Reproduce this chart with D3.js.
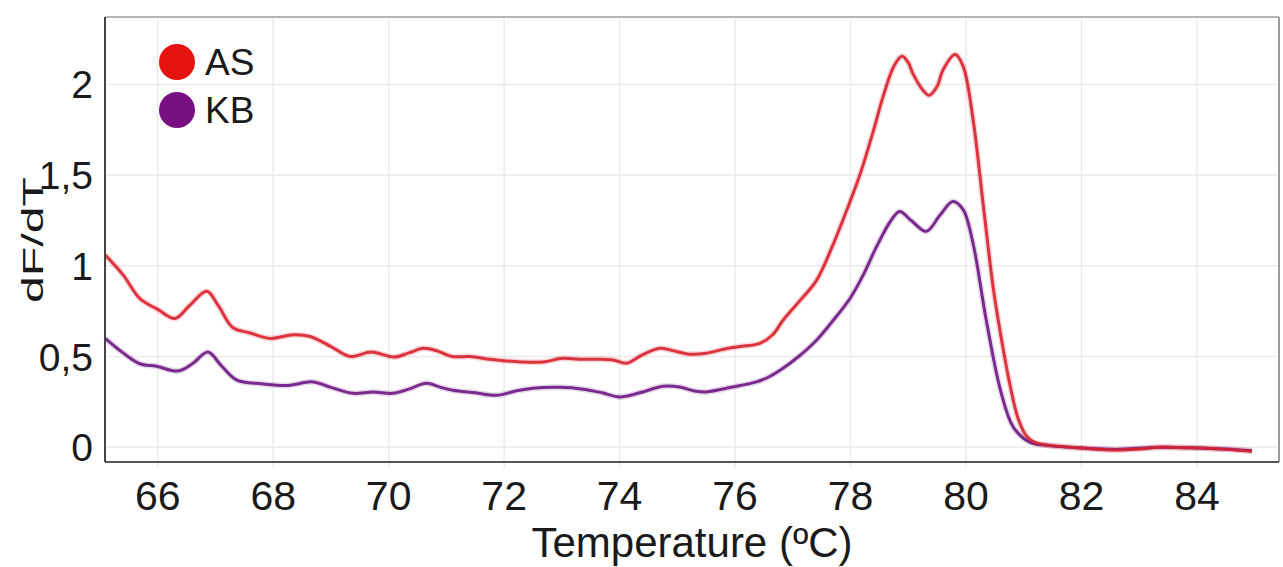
<!DOCTYPE html>
<html>
<head>
<meta charset="utf-8">
<script src="https://cdn.jsdelivr.net/npm/d3@7"></script>
<style>
  html, body { margin: 0; padding: 0; background: #fff; }
  svg { display: block; font-family: "Liberation Sans", Arial, sans-serif; }
</style>
</head>
<body>
<svg id="chart" width="1283" height="567"></svg>
<script>
// ---- data ----
const seriesNames = ["AS", "KB"];
const xTicks = [66, 68, 70, 72, 74, 76, 78, 80, 82, 84];
const yTicks = [0, 0.5, 1, 1.5, 2];
const yTickLabels = ["0", "0,5", "1", "1,5", "2"];

const asTemp = [65.09, 65.4, 65.69, 66.0, 66.3, 66.55, 66.85, 67.05, 67.3, 67.6, 67.95, 68.35, 68.64, 69.0, 69.33, 69.7, 70.1, 70.35, 70.6, 70.85, 71.1, 71.4, 71.75, 71.98, 72.3, 72.67, 73.02, 73.3, 73.66, 73.9, 74.12, 74.4, 74.7, 74.95, 75.2, 75.5, 75.8, 76.03, 76.43, 76.65, 76.83, 77.1, 77.41, 77.7, 77.95, 78.17, 78.4, 78.56, 78.75, 78.89, 79.0, 79.08, 79.25, 79.36, 79.5, 79.6, 79.81, 79.95, 80.12, 80.3, 80.47, 80.6, 80.75, 80.9, 81.05, 81.2, 81.46, 82.03, 82.6, 83.0, 83.36, 84.05, 84.5, 84.95];
const asValue = [1.06, 0.95, 0.82, 0.76, 0.71, 0.78, 0.86, 0.78, 0.66, 0.63, 0.60, 0.62, 0.61, 0.555, 0.50, 0.525, 0.497, 0.52, 0.545, 0.53, 0.50, 0.50, 0.485, 0.477, 0.47, 0.47, 0.49, 0.485, 0.485, 0.48, 0.463, 0.51, 0.545, 0.53, 0.513, 0.518, 0.54, 0.553, 0.573, 0.62, 0.70, 0.80, 0.92, 1.12, 1.32, 1.51, 1.75, 1.93, 2.10, 2.155, 2.12, 2.06, 1.97, 1.94, 1.99, 2.08, 2.165, 2.10, 1.81, 1.33, 0.88, 0.62, 0.36, 0.16, 0.06, 0.025, 0.01, -0.005, -0.016, -0.01, 0.0, -0.005, -0.012, -0.022];

const kbTemp = [65.09, 65.4, 65.69, 65.98, 66.35, 66.6, 66.87, 67.1, 67.37, 67.8, 68.23, 68.69, 69.0, 69.38, 69.73, 70.07, 70.35, 70.65, 70.9, 71.11, 71.5, 71.87, 72.2, 72.5, 72.97, 73.37, 73.7, 74.0, 74.35, 74.75, 75.04, 75.3, 75.5, 75.96, 76.37, 76.6, 76.83, 77.1, 77.41, 77.7, 77.99, 78.22, 78.45, 78.7, 78.85, 79.05, 79.31, 79.55, 79.77, 79.95, 80.12, 80.35, 80.6, 80.82, 81.1, 81.4, 82.0, 82.6, 83.36, 84.05, 84.5, 84.95];
const kbValue = [0.60, 0.52, 0.46, 0.446, 0.42, 0.46, 0.525, 0.45, 0.37, 0.35, 0.34, 0.36, 0.33, 0.297, 0.305, 0.297, 0.32, 0.352, 0.33, 0.314, 0.30, 0.286, 0.31, 0.325, 0.33, 0.32, 0.30, 0.277, 0.30, 0.336, 0.332, 0.31, 0.305, 0.332, 0.36, 0.39, 0.435, 0.50, 0.59, 0.70, 0.82, 0.95, 1.106, 1.25, 1.30, 1.25, 1.19, 1.28, 1.355, 1.31, 1.125, 0.70, 0.31, 0.11, 0.028, 0.01, -0.005, -0.012, 0.0, -0.005, -0.01, -0.02];

const lineColors = ["#d8212e", "#7a2a8c"];
const legendColors = ["#e5120f", "#780f80"];

// ---- layout ----
const svg = d3.select("#chart");
const pLeft = 105, pRight = 1279, pTop = 17, pBottom = 462;
const x = d3.scaleLinear().domain([65.087, 85.42]).range([pLeft, pRight]);
const y = d3.scaleLinear().domain([-0.0816, 2.372]).range([pBottom, pTop]);

// gridlines
svg.append("g").selectAll("line").data(xTicks).join("line")
  .attr("x1", d => x(d)).attr("x2", d => x(d))
  .attr("y1", pTop).attr("y2", pBottom + 6)
  .attr("stroke", "#ebebeb").attr("stroke-width", 1.5);
svg.append("g").selectAll("line").data(yTicks).join("line")
  .attr("x1", pLeft).attr("x2", pRight)
  .attr("y1", d => y(d)).attr("y2", d => y(d))
  .attr("stroke", "#ebebeb").attr("stroke-width", 1.5);

// lines
const mk = (ts, vs) => ts.map((t, i) => [t, vs[i]]);
const line = d3.line().x(d => x(d[0])).y(d => y(d[1])).curve(d3.curveCatmullRom.alpha(0.5));
const series = [mk(kbTemp, kbValue), mk(asTemp, asValue)];
const cols = [lineColors[1], lineColors[0]];
series.forEach((s, i) => {
  svg.append("path").datum(s).attr("d", line)
    .attr("fill", "none").attr("stroke", cols[i]).attr("stroke-width", 6).attr("opacity", 0.18)
    .attr("stroke-linejoin", "round");
});
series.forEach((s, i) => {
  svg.append("path").datum(s).attr("d", line)
    .attr("fill", "none").attr("stroke", cols[i]).attr("stroke-width", 3)
    .attr("opacity", i === 1 ? 0.9 : 1)
    .attr("stroke-linejoin", "round");
});

// frame
svg.append("line").attr("x1", pLeft).attr("x2", pRight).attr("y1", pTop).attr("y2", pTop).attr("stroke", "#b5b5b5").attr("stroke-width", 2);
svg.append("line").attr("x1", pRight).attr("x2", pRight).attr("y1", pTop).attr("y2", pBottom).attr("stroke", "#9a9a9a").attr("stroke-width", 2);
svg.append("line").attr("x1", pLeft).attr("x2", pRight).attr("y1", pBottom).attr("y2", pBottom).attr("stroke", "#555").attr("stroke-width", 2);
svg.append("line").attr("x1", pLeft).attr("x2", pLeft).attr("y1", pTop).attr("y2", pBottom).attr("stroke", "#444").attr("stroke-width", 2);

// tick labels
svg.append("g").selectAll("text").data(xTicks).join("text")
  .attr("x", d => x(d)).attr("y", 510)
  .attr("text-anchor", "middle").attr("font-size", 41).attr("fill", "#1a1a1a")
  .text(d => d);
svg.append("g").selectAll("text").data(yTicks).join("text")
  .attr("x", 93).attr("y", d => y(d) + 14)
  .attr("text-anchor", "end").attr("font-size", 39).attr("fill", "#1a1a1a")
  .text((d, i) => yTickLabels[i]);

// axis titles
svg.append("text").attr("x", 692).attr("y", 557)
  .attr("text-anchor", "middle").attr("font-size", 42).attr("fill", "#1a1a1a")
  .text("Temperature (ºC)");
svg.append("text")
  .attr("transform", "translate(43,240) rotate(-90)")
  .attr("text-anchor", "middle").attr("font-size", 29).attr("fill", "#1a1a1a")
  .attr("textLength", 126).attr("lengthAdjust", "spacingAndGlyphs")
  .text("dF/dT");

// legend
const lg = svg.append("g");
seriesNames.forEach((n, i) => {
  lg.append("circle").attr("cx", 177).attr("cy", 62 + i * 48).attr("r", 18).attr("fill", legendColors[i]);
  lg.append("text").attr("x", 205).attr("y", 75 + i * 48)
    .attr("font-size", 37).attr("fill", "#1a1a1a").text(n);
});
</script>
</body>
</html>
